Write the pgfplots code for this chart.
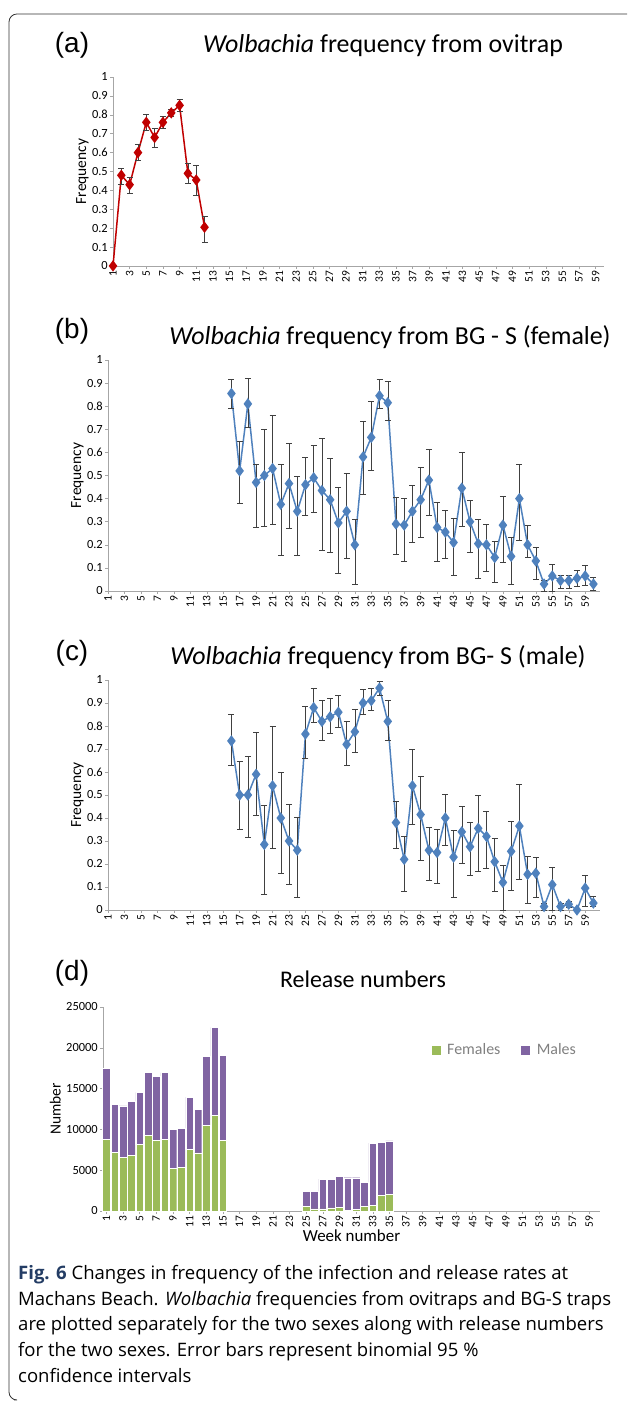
\documentclass[border=0pt]{standalone}
\usepackage{pgfplots}
\pgfplotsset{compat=1.18}
\usepackage{pgfplotstable}
\usepackage{fontspec}
\setmainfont{Carlito}
\newfontfamily\arial{Liberation Sans}
\newfontfamily\capfont{Open Sans}
\definecolor{wred}{RGB}{192,0,0}
\definecolor{wblue}{RGB}{79,129,189}
\definecolor{wgreen}{RGB}{155,187,89}
\definecolor{wpurple}{RGB}{128,100,162}
\definecolor{figblue}{RGB}{35,60,100}

\pgfplotstableread{
x y lo hi
1 0 0 0
2 0.48 0.435 0.52
3 0.43 0.385 0.47
4 0.60 0.56 0.645
5 0.76 0.72 0.805
6 0.68 0.63 0.73
7 0.76 0.73 0.79
8 0.81 0.79 0.83
9 0.85 0.82 0.885
10 0.49 0.44 0.545
11 0.455 0.375 0.535
12 0.205 0.125 0.265
}\ovi

\pgfplotstableread{
x y lo hi
16 0.855 0.79 0.918
17 0.52 0.38 0.65
18 0.81 0.71 0.92
19 0.47 0.275 0.55
20 0.50 0.28 0.70
21 0.53 0.29 0.76
22 0.375 0.155 0.55
23 0.465 0.27 0.64
24 0.345 0.155 0.495
25 0.46 0.33 0.58
26 0.49 0.34 0.63
27 0.435 0.175 0.66
28 0.395 0.17 0.575
29 0.295 0.075 0.45
30 0.345 0.14 0.51
31 0.20 0.03 0.31
32 0.58 0.42 0.735
33 0.665 0.525 0.82
34 0.845 0.79 0.918
35 0.815 0.74 0.91
36 0.29 0.16 0.405
37 0.285 0.13 0.40
38 0.345 0.21 0.46
39 0.395 0.235 0.535
40 0.48 0.33 0.615
41 0.275 0.13 0.385
42 0.255 0.14 0.35
43 0.21 0.07 0.315
44 0.445 0.28 0.60
45 0.30 0.17 0.395
46 0.205 0.055 0.31
47 0.20 0.085 0.29
48 0.145 0.04 0.215
49 0.285 0.125 0.41
50 0.15 0.03 0.235
51 0.40 0.22 0.55
52 0.20 0.145 0.285
53 0.13 0.05 0.19
54 0.03 0.0 0.045
55 0.065 0.0 0.115
56 0.045 0.01 0.07
57 0.045 0.01 0.07
58 0.055 0.02 0.09
59 0.065 0.025 0.11
60 0.03 0.005 0.06
}\fem

\pgfplotstableread{
x y lo hi
16 0.735 0.63 0.85
17 0.50 0.35 0.645
18 0.50 0.315 0.67
19 0.59 0.41 0.775
20 0.285 0.07 0.455
21 0.54 0.27 0.80
22 0.40 0.16 0.60
23 0.30 0.11 0.46
24 0.26 0.055 0.405
25 0.765 0.66 0.885
26 0.88 0.815 0.965
27 0.82 0.74 0.91
28 0.84 0.77 0.92
29 0.86 0.795 0.935
30 0.72 0.63 0.82
31 0.775 0.685 0.875
32 0.90 0.85 0.96
33 0.91 0.87 0.965
34 0.965 0.935 0.995
35 0.82 0.74 0.91
36 0.38 0.27 0.475
37 0.22 0.08 0.32
38 0.54 0.375 0.70
39 0.415 0.215 0.58
40 0.26 0.13 0.36
41 0.25 0.115 0.35
42 0.40 0.28 0.505
43 0.23 0.055 0.345
44 0.34 0.205 0.45
45 0.275 0.15 0.38
46 0.355 0.17 0.50
47 0.32 0.18 0.43
48 0.21 0.08 0.31
49 0.12 0.0 0.195
50 0.255 0.085 0.385
51 0.365 0.135 0.545
52 0.155 0.03 0.235
53 0.16 0.055 0.23
54 0.015 0.0 0.03
55 0.11 0.0 0.185
56 0.015 0.0 0.03
57 0.025 0.01 0.04
58 0.0 0.0 0.0
59 0.095 0.015 0.15
60 0.03 0.015 0.06
}\mal

\pgfplotstableread{
x f m
1 8780 8740
2 7150 5960
3 6540 6330
4 6820 6620
5 8130 6410
6 9310 7640
7 8700 7800
8 8780 8170
9 5190 4780
10 5350 4780
11 7560 6410
12 7110 5310
13 10500 8410
14 11720 10790
15 8620 10460
25 570 1800
26 245 2125
27 245 3675
28 370 3550
29 450 3760
30 80 4000
31 160 3920
32 610 2900
33 735 7595
34 1920 6500
35 2080 6500
}\rel

\pgfplotsset{
  panel/.style={
    scale only axis,
    axis x line*=bottom, axis y line*=left,
    axis line style={gray!70},
    tick style={gray!70, thin},
    major tick length=3bp,
    tick align=outside,
    xtick={1,3,...,59},
    x tick label style={rotate=90, anchor=east, font=\fontsize{11.5}{12}\selectfont, inner sep=1.5bp},
    y tick label style={font=\fontsize{12.5}{13}\selectfont, inner sep=2bp},
    /pgf/number format/assume math mode=true,
    clip=false,
  },
  freq/.style={panel, ymin=0, ymax=1, ytick={0,0.1,...,1.01},
    yticklabel style={/pgf/number format/fixed},
    ylabel={Frequency}, ylabel style={font=\fontsize{15.5}{16}\selectfont, yshift=-2bp}},
  ebar/.style={error bars/.cd, y dir=both, y explicit,
    error bar style={black!75, thin}, error mark options={black!75, rotate=90, mark size=3bp, thin}},
}

\begin{document}
\begin{tikzpicture}
\path (0bp,0bp) rectangle (629bp,1403bp);
\draw[black!80, line width=0.8bp, rounded corners=8bp] (627bp,1389bp) -- (9bp,1389bp) -- (9bp,3bp) -- (14bp,3bp);

% (a)
\node[font=\arial\fontsize{28}{30}\selectfont] at (72bp,1358bp) {(a)};
\node[font=\fontsize{26}{28}\selectfont] at (383bp,1357bp) {\textit{Wolbachia} frequency from ovitrap};
\begin{axis}[freq, at={(113bp,1137bp)}, anchor=south west, width=491bp, height=189bp, xmin=1, xmax=60]
\addplot[wred, line width=1.5bp, mark=diamond*, mark size=4.5bp, mark options={fill=wred}, ebar]
  table[x=x, y=y, y error plus expr=\thisrow{hi}-\thisrow{y}, y error minus expr=\thisrow{y}-\thisrow{lo}] {\ovi};
\end{axis}

% (b)
\node[font=\arial\fontsize{28}{30}\selectfont] at (72bp,1072bp) {(b)};
\node[font=\fontsize{26}{28}\selectfont] at (390bp,1066bp) {\textit{Wolbachia} frequency from BG - S (female)};
\begin{axis}[freq, at={(108bp,812bp)}, anchor=south west, width=492bp, height=231bp, xmin=1, xmax=60.8]
\addplot[wblue, line width=1.5bp, mark=diamond*, mark size=4.5bp, mark options={fill=wblue}, ebar]
  table[x=x, y=y, y error plus expr=\thisrow{hi}-\thisrow{y}, y error minus expr=\thisrow{y}-\thisrow{lo}] {\fem};
\end{axis}

% (c)
\node[font=\arial\fontsize{28}{30}\selectfont] at (72bp,750bp) {(c)};
\node[font=\fontsize{26}{28}\selectfont] at (378bp,746bp) {\textit{Wolbachia} frequency from BG- S (male)};
\begin{axis}[freq, at={(108bp,493bp)}, anchor=south west, width=492bp, height=230bp, xmin=1, xmax=60.8]
\addplot[wblue, line width=1.5bp, mark=diamond*, mark size=4.5bp, mark options={fill=wblue}, ebar]
  table[x=x, y=y, y error plus expr=\thisrow{hi}-\thisrow{y}, y error minus expr=\thisrow{y}-\thisrow{lo}] {\mal};
\end{axis}

% (d)
\node[font=\arial\fontsize{28}{30}\selectfont] at (72bp,430bp) {(d)};
\node[font=\fontsize{24}{26}\selectfont] at (363bp,424bp) {Release numbers};
\begin{axis}[panel, at={(103bp,192bp)}, anchor=south west, width=497bp, height=204bp,
  xmin=0.6, xmax=60.3, ymin=0, ymax=25000, ytick={0,5000,...,25000},
  scaled y ticks=false, yticklabel style={/pgf/number format/1000 sep={}},
  ybar stacked, bar width=7.6bp,
  ylabel={Number}, ylabel style={font=\fontsize{15.5}{16}\selectfont},
  xlabel={Week number}, xlabel style={font=\fontsize{17}{18}\selectfont, yshift=3bp},
  legend style={draw=none, fill=none, at={(0.97,0.79)}, anchor=east, font=\fontsize{16}{17}\selectfont\color{gray},
    legend columns=2, /tikz/every even column/.append style={column sep=14bp},
    nodes={inner xsep=6bp}},
  legend image code/.code={\fill[#1] (0bp,-5bp) rectangle (10bp,5bp);},
  ]
\addplot[fill=wgreen, draw=white, line width=0.4bp] table[x=x, y=f] {\rel};
\addplot[fill=wpurple, draw=white, line width=0.4bp] table[x=x, y=m] {\rel};
\legend{Females, Males}
\end{axis}

% caption
\node[anchor=north west, align=left, inner sep=0pt, font=\capfont\fontsize{18.6}{25.8}\selectfont] at (18bp,138bp)
{{\color{figblue}\bfseries Fig. 6} Changes in frequency of the infection and release rates at\\
Machans Beach. \textit{Wolbachia} frequencies from ovitraps and BG-S traps\\
are plotted separately for the two sexes along with release numbers\\
for the two sexes. Error bars represent binomial 95 \%\\
confidence intervals};
\end{tikzpicture}
\end{document}
